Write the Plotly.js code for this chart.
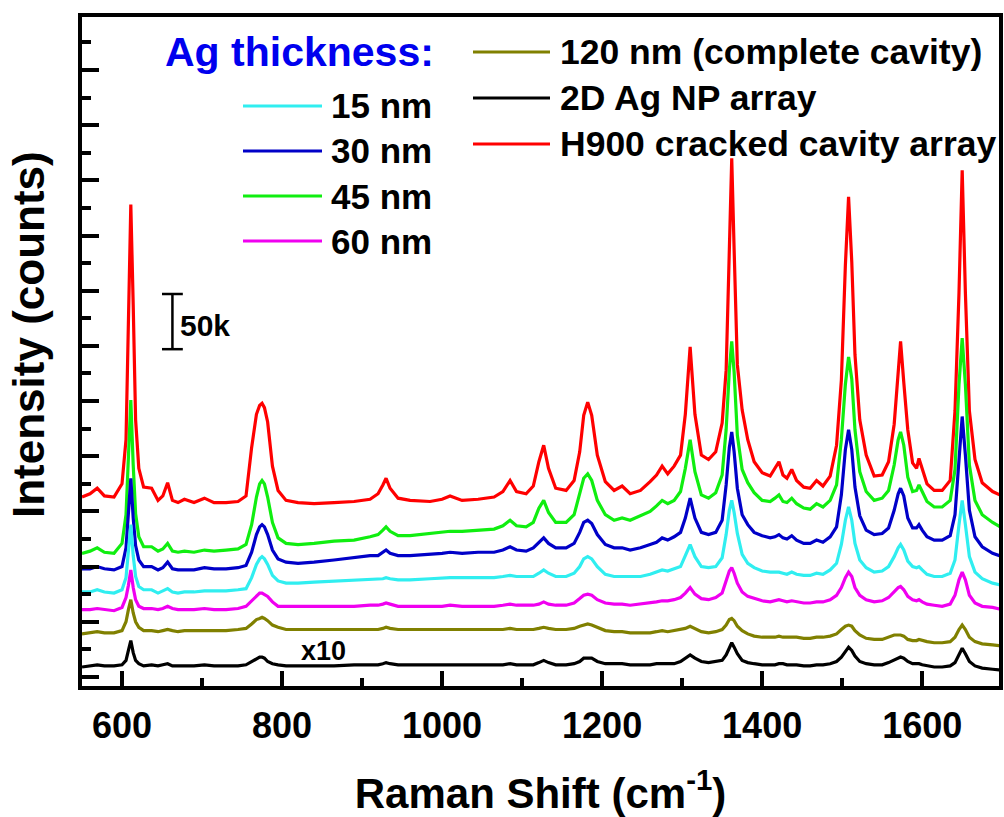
<!DOCTYPE html>
<html>
<head>
<meta charset="utf-8">
<script src="https://cdn.plot.ly/plotly-3.0.1.min.js"></script>
<style>html,body{margin:0;padding:0;background:#fff;}#chart{width:1004px;height:817px;}</style>
</head>
<body>
<div id="chart"></div>
<script>
// Raman shift (cm-1), shared by all spectra
const shift = [
550, 560, 569, 578, 590, 600, 605, 608, 611, 614,
617, 621, 627, 637, 645, 651, 657, 663, 670, 678,
690, 703, 715, 730, 745, 755, 762, 768, 772, 775,
778, 782, 788, 795, 805, 820, 840, 865, 890, 910,
920, 926, 930, 935, 945, 960, 985, 1000, 1010, 1025,
1045, 1065, 1076, 1085, 1093, 1105, 1114, 1121, 1127, 1133,
1142, 1155, 1165, 1172, 1177, 1182, 1187, 1194, 1204, 1215,
1225, 1235, 1248, 1260, 1268, 1275, 1282, 1290, 1298, 1304,
1310, 1316, 1324, 1333, 1342, 1350, 1355, 1359, 1362, 1365,
1369, 1375, 1382, 1390, 1400, 1410, 1416, 1421, 1426, 1431,
1437, 1443, 1452, 1460, 1468, 1476, 1485, 1493, 1499, 1504,
1508, 1512, 1516, 1522, 1530, 1540, 1550, 1558, 1565, 1570,
1573, 1577, 1582, 1588, 1593, 1596, 1600, 1606, 1615, 1625,
1635, 1641, 1646, 1650, 1654, 1659, 1666, 1675, 1688, 1700];

// Intensities in thousands of counts (stacked, as plotted)
const h900 = [
163,166,171,164,163,175,215,323,428,337,
233,189,172,171,160,164,176,160,158,161,
158,162,158,158,159,164,208,238,246,248,
244,231,191,169,160,158,157,158,159,161,
166,174,180,171,162,160,159,161,164,160,
161,163,168,178,168,166,173,195,210,189,
171,169,178,204,237,249,237,201,177,169,
173,166,169,177,183,191,184,191,201,238,
299,238,201,197,204,230,278,387,470,387,
283,242,215,195,185,182,189,195,183,180,
188,178,172,171,178,173,182,210,269,373,
435,376,292,233,201,182,183,195,229,280,
304,267,224,194,189,198,188,175,169,169,
178,241,348,459,348,241,197,176,168,164];

const ag45 = [
112,114,117,113,112,121,147,192,251,192,
148,127,118,118,114,116,121,114,113,114,
113,115,114,115,116,120,138,163,175,178,
175,163,140,126,121,120,121,123,124,127,
129,133,136,132,128,128,130,131,132,132,
133,134,137,142,137,136,140,153,160,149,
140,140,147,165,180,184,178,160,147,142,
144,142,146,150,155,160,157,160,168,189,
215,186,165,162,167,183,224,278,304,276,
219,188,176,167,160,159,162,165,159,158,
162,157,153,152,157,154,160,174,215,265,
290,270,224,186,168,160,162,169,192,215,
222,210,181,168,169,174,168,159,154,154,
160,188,265,307,265,192,160,147,140,135];

const ag30 = [
98,98,100,98,97,100,117,147,180,144,
119,106,100,100,97,99,104,98,97,97,
97,99,98,98,99,101,113,129,136,138,
136,129,115,107,104,103,104,106,108,110,
110,113,115,112,110,110,111,112,113,112,
113,113,115,118,115,114,117,122,126,121,
117,117,121,131,140,142,139,129,120,117,
117,115,117,120,122,126,124,127,131,144,
162,144,131,129,131,142,174,208,222,204,
171,147,138,131,128,126,127,129,126,125,
128,124,121,121,124,122,127,136,165,206,
224,206,172,146,133,129,130,135,151,166,
171,164,144,135,135,138,133,127,124,124,
128,147,201,236,201,151,127,118,112,109];

const ag15 = [
77,77,79,77,76,79,90,111,138,110,
91,82,79,79,76,78,80,77,76,77,
77,78,78,78,79,80,90,102,107,109,
107,102,92,87,85,85,86,87,88,89,
89,89,90,89,88,88,89,90,90,90,
90,90,91,92,91,91,91,94,97,94,
91,91,94,100,107,109,107,100,93,91,
91,91,91,93,95,97,96,98,100,110,
120,109,100,99,100,108,129,151,160,149,
130,111,103,99,96,95,95,95,94,93,
95,93,92,92,94,93,97,103,120,142,
154,142,121,106,99,95,96,100,109,117,
120,115,105,100,99,100,97,93,91,91,
94,106,138,160,138,109,95,89,85,83];

const ag60 = [
61,61,62,61,60,63,72,83,97,81,
70,64,62,62,61,62,64,62,61,61,
61,62,61,61,62,64,69,74,76,76,
75,73,68,64,64,64,64,64,64,65,
65,66,67,66,64,64,64,64,65,64,
64,64,65,66,65,65,65,66,68,66,
65,65,67,71,74,75,74,70,67,66,
66,65,66,67,68,69,69,70,72,76,
81,75,71,70,72,76,86,96,99,94,
85,77,73,71,69,68,69,70,69,68,
69,68,67,67,68,68,70,74,81,90,
95,91,81,74,70,68,69,72,77,81,
82,79,73,70,69,70,68,66,65,64,
66,74,88,95,88,74,67,64,63,61];

const ag120 = [
39,40,41,40,40,42,50,61,70,58,
50,45,42,42,41,42,43,42,41,42,
42,42,42,42,43,44,48,52,53,54,
53,51,47,45,43,43,43,43,43,43,
43,44,45,44,43,43,43,43,43,43,
43,43,43,44,43,43,43,44,45,44,
43,43,44,46,47,48,47,45,42,41,
41,40,40,40,41,42,41,42,43,44,
46,44,41,40,41,43,47,52,53,51,
46,42,39,37,36,36,36,37,36,36,
36,36,35,35,36,36,37,39,43,46,
47,46,42,38,35,34,34,36,38,38,
38,37,34,33,33,34,33,32,31,31,
32,36,43,47,43,36,32,30,29,28];

const npArray = [
9,10,11,10,10,11,15,24,33,22,
15,12,10,11,10,11,12,10,10,10,
10,11,10,10,10,11,14,17,18,18,
17,14,12,11,10,10,10,10,11,11,
11,12,13,12,11,11,11,11,11,11,
11,11,11,12,11,11,11,13,15,13,
11,11,12,14,17,17,17,14,12,12,
12,11,11,11,12,12,12,12,14,17,
20,17,14,13,14,15,20,27,31,27,
21,15,13,12,11,11,11,12,12,11,
11,11,10,10,11,11,12,14,18,23,
27,24,19,14,12,11,11,13,15,17,
18,17,14,12,12,12,11,10,9,9,
10,13,21,26,21,14,10,8,7,6];

const seriesNames = ['H900 cracked cavity array', '45 nm', '30 nm', '15 nm', '60 nm', '120 nm (complete cavity)', '2D Ag NP array'];
const seriesValues = [h900, ag45, ag30, ag15, ag60, ag120, npArray];
const seriesColors = ['#FF0000', '#10EE10', '#0000C8', '#30EEF0', '#F000F0', '#808000', '#000000'];

const legendLeftLabels = ['15 nm', '30 nm', '45 nm', '60 nm'];
const legendLeftColors = ['#30EEF0', '#0000C8', '#10EE10', '#F000F0'];
const legendRightLabels = ['120 nm (complete cavity)', '2D Ag NP array', 'H900 cracked cavity array'];
const legendRightColors = ['#808000', '#000000', '#FF0000'];

const FONT = 'Liberation Sans, Arial, Helvetica, sans-serif';

const traces = seriesValues.map((vals, i) => ({
  type: 'scatter', mode: 'lines', x: shift, y: vals, name: seriesNames[i],
  line: {color: seriesColors[i], width: 3.2}, hoverinfo: 'skip'
}));

// layout helpers (plot area: left 82, top 17, width 917, height 669)
const L = 82, T = 17, W = 917, H = 669;
const px = v => (v - L) / W;
const py = v => (T + H - v) / H;

const shapes = [];
const annotations = [];

// y-axis title, placed as a rotated text beside the axis
annotations.push({xref:'paper', yref:'paper', x:px(28), y:py(335), xanchor:'center', yanchor:'middle',
  text:'Intensity (counts)', textangle:-90, showarrow:false, borderpad:0,
  font:{family:FONT, size:44, color:'#000', weight:'bold'}});

annotations.push({xref:'paper', yref:'paper', x:px(164), y:py(52), xanchor:'left', yanchor:'middle',
  text:'Ag thickness:', showarrow:false, borderpad:0, font:{family:FONT, size:41, color:'#0000EE', weight:'bold'}});
legendLeftLabels.forEach((t, i) => {
  const yy = 106 + i * 45;
  shapes.push({type:'line', xref:'paper', yref:'paper', x0:px(243), x1:px(322), y0:py(yy), y1:py(yy),
    line:{color:legendLeftColors[i], width:3}});
  annotations.push({xref:'paper', yref:'paper', x:px(330), y:py(yy), xanchor:'left', yanchor:'middle',
    text:t, showarrow:false, borderpad:0, font:{family:FONT, size:35, color:'#000', weight:'bold'}});
});
legendRightLabels.forEach((t, i) => {
  const yy = 52 + i * 46;
  shapes.push({type:'line', xref:'paper', yref:'paper', x0:px(473), x1:px(550), y0:py(yy), y1:py(yy),
    line:{color:legendRightColors[i], width:3}});
  annotations.push({xref:'paper', yref:'paper', x:px(559), y:py(yy), xanchor:'left', yanchor:'middle',
    text:t, showarrow:false, borderpad:0, font:{family:FONT, size:35.5, color:'#000', weight:'bold'}});
});

// 50k scale bar (data units: thousands of counts)
const barX = 663, barLow = 297, barHigh = 347;
shapes.push({type:'line', xref:'x', yref:'y', x0:barX, x1:barX, y0:barLow, y1:barHigh, line:{color:'#000', width:2.5}});
shapes.push({type:'line', xref:'x', yref:'y', x0:barX-13, x1:barX+13, y0:barLow, y1:barLow, line:{color:'#000', width:2.5}});
shapes.push({type:'line', xref:'x', yref:'y', x0:barX-13, x1:barX+13, y0:barHigh, y1:barHigh, line:{color:'#000', width:2.5}});
annotations.push({xref:'paper', yref:'paper', x:px(179), y:py(325), xanchor:'left', yanchor:'middle',
  text:'50k', showarrow:false, borderpad:0, font:{family:FONT, size:30, color:'#000', weight:'bold'}});
annotations.push({xref:'paper', yref:'paper', x:px(323), y:py(651), xanchor:'center', yanchor:'middle',
  text:'x10', showarrow:false, borderpad:0, font:{family:FONT, size:27, color:'#000', weight:'bold'}});

const layout = {
  width: 1004, height: 817,
  margin: {l: L, r: 1004 - L - W, t: T, b: 817 - T - H, pad: 0},
  paper_bgcolor: '#fff', plot_bgcolor: '#fff',
  showlegend: false,
  font: {family: FONT, color: '#000'},
  xaxis: {
    range: [550, 1696], showline: true, linecolor: '#000', linewidth: 4, mirror: true,
    ticks: 'inside', ticklen: 15, tickwidth: 4, tickcolor: '#000', tick0: 0, dtick: 200,
    minor: {ticks: 'inside', dtick: 100, ticklen: 8, tickwidth: 4, tickcolor: '#000'},
    showgrid: false, zeroline: false, automargin: false,
    tickfont: {family: FONT, size: 36, color: '#000', weight: 'bold'}, ticklabelstandoff: 5,
    title: {text: 'Raman Shift (cm<sup>-1</sup>)', standoff: 35, font: {family: FONT, size: 42, color: '#000', weight: 'bold'}}
  },
  yaxis: {
    range: [-8.2, 598], showline: true, linecolor: '#000', linewidth: 4, mirror: true,
    ticks: 'inside', ticklen: 17, tickwidth: 4, tickcolor: '#000', tick0: 0, dtick: 50,
    minor: {ticks: 'inside', dtick: 25, ticklen: 9, tickwidth: 4, tickcolor: '#000'},
    showticklabels: false, showgrid: false, zeroline: false, automargin: false
  },
  shapes: shapes,
  annotations: annotations
};

Plotly.newPlot('chart', traces, layout, {displayModeBar: false, staticPlot: true});
</script>
</body>
</html>
